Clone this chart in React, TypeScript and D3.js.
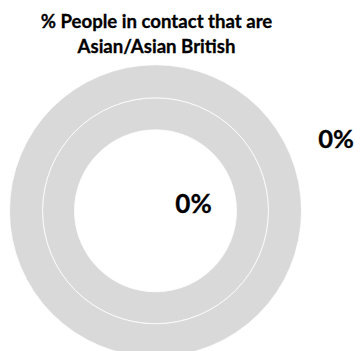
import React from "react";
import * as d3 from "d3";

const titleLines = ["% People in contact that are", "Asian/Asian British"];
const ringNames = ["inner", "outer"];
const ringValues = [0, 0]; // percent share of Asian/Asian British
const ringLabels = ["0%", "0%"];

const W = 361;
const H = 351;

export default function App() {
  const cx = 155.5;
  const cy = 210.8;
  const radii = [
    [81, 113],
    [113, 146],
  ];
  const pie = d3.pie<number>().sort(null).value((d) => d);
  const fmt = d3.format(".0%");

  return (
    <svg
      width={W}
      height={H}
      style={{ position: "absolute", left: 0, top: 0, background: "#fff" }}
      fontFamily="Lato, 'Open Sans', sans-serif"
    >
      {titleLines.map((t, i) => (
        <text
          key={i}
          x={156.5}
          y={28 + i * 25}
          textAnchor="middle"
          fontWeight="bold"
          fontSize={18.6}
          fill="#000"
          stroke="#000"
          strokeWidth={0.3}
        >
          {t}
        </text>
      ))}
      <g transform={`translate(${cx},${cy})`}>
        {ringNames.map((name, ri) => {
          const v = ringValues[ri] / 100;
          const arcs = pie([v, 1 - v]);
          const arc = d3
            .arc<d3.PieArcDatum<number>>()
            .innerRadius(radii[ri][0])
            .outerRadius(radii[ri][1]);
          return (
            <g key={name}>
              {arcs.map((a, j) => (
                <path
                  key={j}
                  d={arc(a) || ""}
                  fill={j === 0 ? "#a5a5a5" : "#d9d9d9"}
                  stroke="#fff"
                  strokeWidth={0.75}
                />
              ))}
            </g>
          );
        })}
      </g>
      <text x={193.5} y={212.7} textAnchor="middle" fontWeight="bold" fontSize={26} fill="#000" stroke="#000" strokeWidth={0.3}>
        {ringLabels[0] ?? fmt(ringValues[0] / 100)}
      </text>
      <text x={336} y={148.3} textAnchor="middle" fontWeight="bold" fontSize={25.5} fill="#000" stroke="#000" strokeWidth={0.3}>
        {ringLabels[1] ?? fmt(ringValues[1] / 100)}
      </text>
    </svg>
  );
}
